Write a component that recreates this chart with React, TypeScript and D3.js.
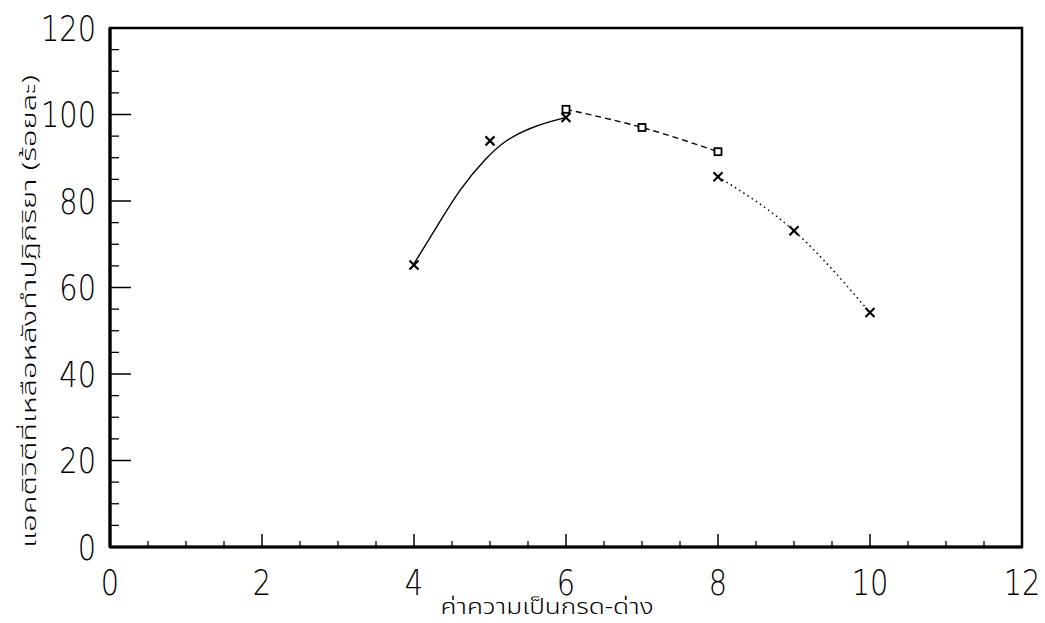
import React from "react";
import * as d3 from "d3";

// pH values and remaining activity (%)
const seriesA_x = [4, 5, 6];
const seriesA_y = [65.2, 93.9, 99.3];
const seriesB_x = [6, 7, 8];
const seriesB_y = [101.2, 97.0, 91.4];
const seriesC_x = [8, 9, 10];
const seriesC_y = [85.6, 73.1, 54.2];

// smoothed fit drawn through series A
const fitA_x = [4.0, 4.3, 4.6, 4.96, 5.21, 5.53, 5.79, 6.0];
const fitA_y = [65.5, 74, 82.8, 90.2, 94.2, 96.9, 98.4, 99.3];

const xTicks = [0, 2, 4, 6, 8, 10, 12];
const yTicks = [0, 20, 40, 60, 80, 100, 120];

const xTitle = "ค่าความเป็นกรด-ด่าง";
const yTitle = "แอคติวิตีที่เหลือหลังทำปฏิกิริยา (ร้อยละ)";

const W = 1045;
const H = 623;
const L = 110, R = 1022, T = 28, B = 547;

export default function App() {
  const x = d3.scaleLinear().domain([0, 12]).range([L, R]);
  const y = d3.scaleLinear().domain([0, 120]).range([B, T]);

  const smooth = d3
    .line<[number, number]>()
    .x((d) => x(d[0]))
    .y((d) => y(d[1]))
    .curve(d3.curveBasis);
  const line = d3
    .line<[number, number]>()
    .x((d) => x(d[0]))
    .y((d) => y(d[1]))
    .curve(d3.curveMonotoneX);

  const fitPts = fitA_x.map((v, i) => [v, fitA_y[i]] as [number, number]);
  const bPts = seriesB_x.map((v, i) => [v, seriesB_y[i]] as [number, number]);
  const cPts = seriesC_x.map((v, i) => [v, seriesC_y[i]] as [number, number]);

  const xMinor = d3.range(0, 12.01, 0.5).filter((v) => v % 2 !== 0);
  const yMinor = d3.range(0, 120.01, 5).filter((v) => v % 20 !== 0);

  const tickFont = "'DejaVu Sans', sans-serif";
  const thaiFont = "'Noto Sans Thai', 'Noto Sans Thai UI', 'Loma', 'Garuda', 'Noto Sans', sans-serif";

  const cross = (cx: number, cy: number, k: string) => (
    <g key={k} stroke="#000" strokeWidth={2.2}>
      <line x1={cx - 4.5} y1={cy - 4.5} x2={cx + 4.5} y2={cy + 4.5} />
      <line x1={cx - 4.5} y1={cy + 4.5} x2={cx + 4.5} y2={cy - 4.5} />
    </g>
  );

  return (
    <svg
      width={W}
      height={H}
      style={{ position: "absolute", left: 0, top: 0, background: "#fff" }}
    >
      <rect x={0} y={0} width={W} height={H} fill="#fff" />

      {/* frame */}
      <rect x={L} y={T} width={R - L} height={B - T} fill="none" stroke="#000" strokeWidth={2.5} />
      <line x1={L} y1={T} x2={L} y2={B} stroke="#000" strokeWidth={3.2} />
      <line x1={L} y1={B} x2={R} y2={B} stroke="#000" strokeWidth={2.8} />

      {/* y ticks */}
      {yTicks.map((v) => (
        <line key={"ym" + v} x1={L} x2={L + 21} y1={y(v)} y2={y(v)} stroke="#000" strokeWidth={1.5} />
      ))}
      {yMinor.map((v) => (
        <line key={"yn" + v} x1={L} x2={L + 9} y1={y(v)} y2={y(v)} stroke="#000" strokeWidth={1.3} />
      ))}
      {/* x ticks */}
      {xTicks.map((v) => (
        <line key={"xm" + v} x1={x(v)} x2={x(v)} y1={B} y2={B - 13} stroke="#000" strokeWidth={1.5} />
      ))}
      {xMinor.map((v) => (
        <line key={"xn" + v} x1={x(v)} x2={x(v)} y1={B} y2={B - 6} stroke="#000" strokeWidth={1.3} />
      ))}

      {/* tick labels */}
      {yTicks.map((v) => (
        <text
          key={"yl" + v}
          x={96}
          y={y(v)}
          dy="0.36em"
          textAnchor="end"
          fontFamily={tickFont}
          fontSize={36}
          fontWeight={200}
          transform={`translate(96,0) scale(0.8,1) translate(-96,0)`}
        >
          {v}
        </text>
      ))}
      {xTicks.map((v) => (
        <text
          key={"xl" + v}
          x={x(v)}
          y={582}
          dy="0.36em"
          textAnchor="middle"
          fontFamily={tickFont}
          fontSize={36}
          fontWeight={200}
          transform={`translate(${x(v)},0) scale(0.8,1) translate(${-x(v)},0)`}
        >
          {v}
        </text>
      ))}

      {/* axis titles */}
      <text
        x={547}
        y={614}
        textAnchor="middle"
        fontFamily={thaiFont}
        fontSize={21}
        fontWeight={300}
        textLength={213}
        lengthAdjust="spacingAndGlyphs"
      >
        {xTitle}
      </text>
      <text
        transform={`translate(36,${(75 + 548) / 2}) rotate(-90)`}
        textAnchor="middle"
        fontFamily={thaiFont}
        fontSize={20}
        fontWeight={300}
        textLength={473}
        lengthAdjust="spacingAndGlyphs"
      >
        {yTitle}
      </text>

      {/* curves */}
      <path d={smooth(fitPts) || ""} fill="none" stroke="#000" strokeWidth={1.4} />
      <path d={line(bPts) || ""} fill="none" stroke="#000" strokeWidth={1.4} strokeDasharray="6 4" />
      <path d={line(cPts) || ""} fill="none" stroke="#000" strokeWidth={1.5} strokeDasharray="1.5 3.5" />

      {/* markers */}
      {seriesA_x.map((v, i) => cross(x(v), y(seriesA_y[i]), "a" + i))}
      {seriesC_x.map((v, i) => cross(x(v), y(seriesC_y[i]), "c" + i))}
      {seriesB_x.map((v, i) => (
        <rect
          key={"b" + i}
          x={x(v) - 3.5}
          y={y(seriesB_y[i]) - 3.5}
          width={7}
          height={7}
          fill="#fff"
          stroke="#000"
          strokeWidth={1.8}
        />
      ))}
    </svg>
  );
}
